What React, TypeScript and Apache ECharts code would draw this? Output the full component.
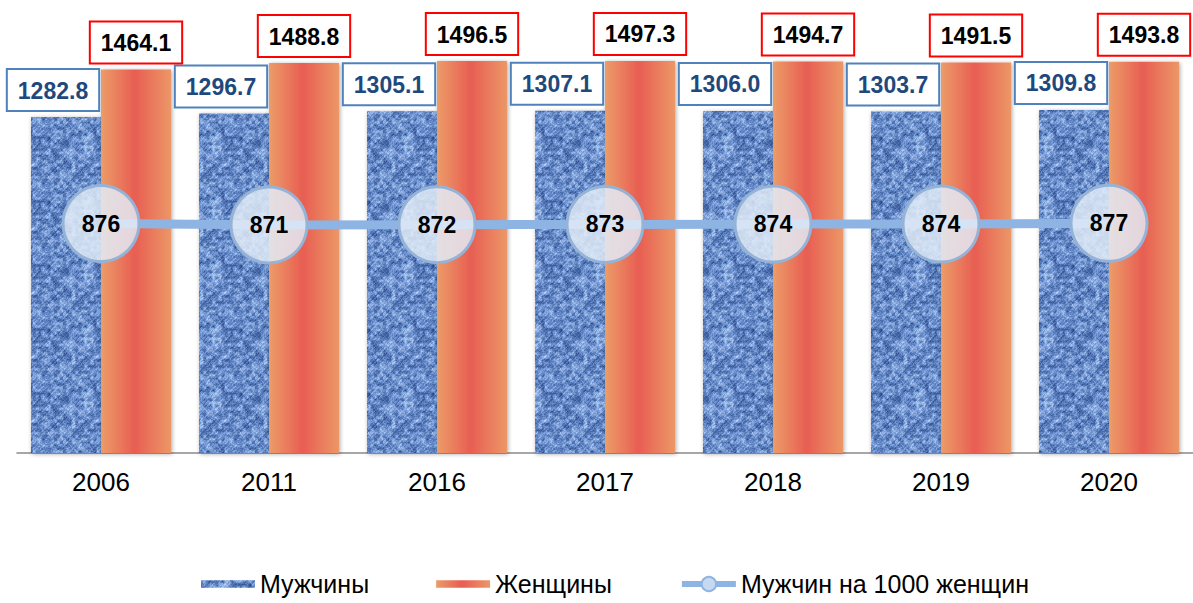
import React, { useEffect, useRef } from "react";
import * as echarts from "echarts";

const years = ["2006", "2011", "2016", "2017", "2018", "2019", "2020"];
const men = [1282.8, 1296.7, 1305.1, 1307.1, 1306.0, 1303.7, 1309.8];
const women = [1464.1, 1488.8, 1496.5, 1497.3, 1494.7, 1491.5, 1493.8];
const menPer1000 = [876, 871, 872, 873, 874, 874, 877];

const seriesNames = ["Мужчины", "Женщины", "Мужчин на 1000 женщин"];

const FONT = "'Liberation Sans', Arial, sans-serif";

function makeDenim(): HTMLCanvasElement {
  const size = 64;
  const c = document.createElement("canvas");
  c.width = size;
  c.height = size;
  const ctx = c.getContext("2d")!;
  const img = ctx.createImageData(size, size);
  let seed = 987654;
  const rnd = () => {
    seed = (seed * 1103515245 + 12345) & 0x7fffffff;
    return seed / 0x7fffffff;
  };
  const g = 21;
  const cell = size / g;
  const grid: number[] = [];
  for (let i = 0; i < g * g; i++) grid.push(rnd());
  const sm = (t: number) => t * t * (3 - 2 * t);
  const dark = [44, 74, 134];
  const mid = [104, 142, 206];
  const light = [192, 214, 246];
  for (let y = 0; y < size; y++) {
    for (let x = 0; x < size; x++) {
      const gx = x / cell;
      const gy = y / cell;
      const i0 = Math.floor(gx) % g;
      const j0 = Math.floor(gy) % g;
      const i1 = (i0 + 1) % g;
      const j1 = (j0 + 1) % g;
      const fx = sm(gx - Math.floor(gx));
      const fy = sm(gy - Math.floor(gy));
      const a = grid[j0 * g + i0];
      const b = grid[j0 * g + i1];
      const cc = grid[j1 * g + i0];
      const d = grid[j1 * g + i1];
      const v = (a * (1 - fx) + b * fx) * (1 - fy) + (cc * (1 - fx) + d * fx) * fy;
      const weave = ((x + y) % 4 < 2 ? 0.05 : -0.05);
      let t = v * 0.7 + rnd() * 0.3 + weave;
      t = Math.max(0, Math.min(1, t));
      let col: number[];
      if (t < 0.5) {
        const k = t / 0.5;
        col = dark.map((dv, i) => dv + (mid[i] - dv) * k);
      } else {
        const k = (t - 0.5) / 0.5;
        col = mid.map((mv, i) => mv + (light[i] - mv) * k);
      }
      const p = (y * size + x) * 4;
      img.data[p] = col[0];
      img.data[p + 1] = col[1];
      img.data[p + 2] = col[2];
      img.data[p + 3] = 255;
    }
  }
  ctx.putImageData(img, 0, 0);
  return c;
}

export default function App() {
  const ref = useRef<HTMLDivElement>(null);

  useEffect(() => {
    if (!ref.current) return;
    const chart = echarts.init(ref.current, null, { renderer: "svg" });
    const denim = makeDenim();
    const denimPattern: any = {
      image: denim,
      repeat: "repeat",
      imageWidth: 64,
      imageHeight: 64,
    };
    const orangeGrad = new echarts.graphic.LinearGradient(0, 0, 1, 0, [
      { offset: 0, color: "#EC9C69" },
      { offset: 0.48, color: "#E85E52" },
      { offset: 1, color: "#EC9767" },
    ]);

    const option: any = {
      animation: false,
      backgroundColor: "#ffffff",
      grid: { left: 17, width: 1183, top: 34, height: 419, containLabel: false },
      legend: {
        left: 196,
        top: 566,
        itemWidth: 54,
        itemHeight: 18,
        itemGap: 67,
        textStyle: { fontSize: 25, color: "#000", fontFamily: FONT, lineHeight: 26 },
        data: [
          { name: seriesNames[0], icon: "path://M0,0h50v7h-50z" },
          { name: seriesNames[1], icon: "path://M0,0h50v7h-50z" },
          {
            name: seriesNames[2],
            lineStyle: { width: 6, color: "#8DB4E2" },
            itemStyle: { color: "#C6D9F1", borderColor: "#8DB4E2", borderWidth: 2 },
          },
        ],
      },
      xAxis: {
        type: "category",
        data: years,
        axisLine: { lineStyle: { color: "#8A8A8A", width: 1.5 } },
        axisTick: { length: 8, lineStyle: { color: "#8A8A8A", width: 1.5 } },
        axisLabel: { fontSize: 26, color: "#000", fontFamily: FONT, margin: 16 },
      },
      yAxis: {
        type: "value",
        min: 0,
        max: 1600,
        show: false,
        splitLine: { show: false },
      },
      series: [
        {
          name: seriesNames[0],
          type: "bar",
          data: men,
          barWidth: 70,
          barGap: "0%",
          itemStyle: {
            color: denimPattern,
            shadowBlur: 4,
            shadowColor: "rgba(0,0,0,0.35)",
            shadowOffsetX: 1,
            shadowOffsetY: 1,
          },
          label: {
            show: true,
            position: "top",
            distance: 7,
            offset: [-13, 0],
            formatter: (p: any) => p.value.toFixed(1),
            fontSize: 23,
            fontWeight: "bold",
            fontFamily: FONT,
            color: "#1F497D",
            backgroundColor: "#fff",
            borderColor: "#4F81BD",
            borderWidth: 2,
            padding: [9, 10, 8, 10],
          },
        },
        {
          name: seriesNames[1],
          type: "bar",
          data: women,
          barWidth: 70,
          barGap: "0%",
          itemStyle: {
            color: orangeGrad,
            shadowBlur: 4,
            shadowColor: "rgba(0,0,0,0.35)",
            shadowOffsetX: 1,
            shadowOffsetY: 1,
          },
          label: {
            show: true,
            position: "top",
            distance: 7,
            formatter: (p: any) => p.value.toFixed(1),
            fontSize: 23,
            fontWeight: "bold",
            fontFamily: FONT,
            color: "#000",
            backgroundColor: "#fff",
            borderColor: "#FF0000",
            borderWidth: 2,
            padding: [9, 10, 8, 10],
          },
        },
        {
          name: seriesNames[2],
          type: "line",
          data: menPer1000,
          symbol: "circle",
          symbolSize: 76,
          lineStyle: { color: "#8DB4E2", width: 9 },
          itemStyle: {
            color: "rgba(226,236,248,0.84)",
            borderColor: "#95B3D7",
            borderWidth: 3,
          },
          label: {
            show: true,
            position: "inside",
            fontSize: 23,
            fontWeight: "bold",
            fontFamily: FONT,
            color: "#000",
          },
          z: 5,
        },
      ],
    };
    chart.setOption(option);
    return () => chart.dispose();
  }, []);

  return (
    <div
      ref={ref}
      style={{ position: "absolute", left: 0, top: 0, width: 1193, height: 603, background: "#fff" }}
    />
  );
}
